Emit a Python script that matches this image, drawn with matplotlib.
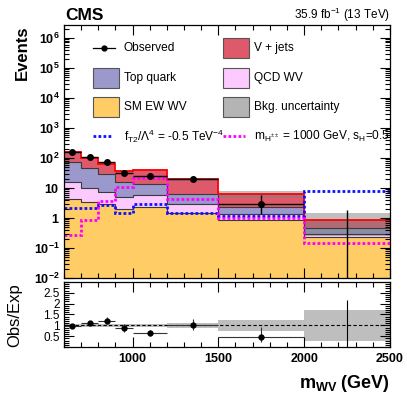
import numpy as np
import matplotlib
matplotlib.use('Agg')
import matplotlib.pyplot as plt
from matplotlib.patches import Rectangle
from matplotlib.lines import Line2D
from matplotlib.ticker import (FixedLocator, MultipleLocator, FuncFormatter,
                               LogLocator, NullFormatter)

plt.rcParams['font.family'] = ['Liberation Sans', 'DejaVu Sans']
plt.rcParams['mathtext.fontset'] = 'custom'
plt.rcParams['mathtext.rm'] = 'Liberation Sans'
plt.rcParams['mathtext.it'] = 'Liberation Sans:italic'
plt.rcParams['mathtext.bf'] = 'Liberation Sans:bold'

# binning in m_WV (GeV)
edges = [600, 700, 800, 900, 1000, 1200, 1500, 2000, 2500]

# data and backgrounds (events per bin)
observed = [158, 110, 75, 32, 25, 20, 3, 0]
sm_ew_wv = [4.2, 3.34, 2.86, 2.0, 2.38, 1.43, 0.86, 0.24]
qcd_wv = [11.3, 6.86, 4.33, 3.13, 3.46, 1.43, 0.5, 0.05]
top_quark = [60.0, 35.2, 21.4, 11.1, 7.46, 3.31, 0.97, 0.17]
v_jets = [87.7, 54.6, 33.4, 20.7, 26.5, 13.3, 4.0, 0.40]
bkg_rel_unc = [0.06, 0.06, 0.08, 0.07, 0.07, 0.12, 0.25, 0.70]

# signal hypotheses
sig_ft2 = [2.2, 2.2, 2.71, 1.5, 2.93, 1.5, 1.19, 7.9]
sig_hpp = [0.27, 0.86, 3.69, 11.0, 22.0, 4.3, 1.02, 0.15]

# ratio panel y tick labels
ratio_ticks = [0.5, 1, 1.5, 2, 2.5]

edges = np.array(edges, dtype=float)
centers = 0.5 * (edges[1:] + edges[:-1])
halfw = 0.5 * (edges[1:] - edges[:-1])
obs = np.array(observed, dtype=float)

layers = [
    (sm_ew_wv, '#ffcc66'),
    (qcd_wv, '#fccaff'),
    (top_quark, '#9b98cc'),
    (v_jets, '#de5a6a'),
]

# poisson (Gehrels) error bars
err_hi = 1 + np.sqrt(obs + 0.75)
safe = np.where(obs > 0, obs, 1)
low = np.where(obs > 0, safe * (1 - 1 / (9 * safe) - 1 / (3 * np.sqrt(safe))) ** 3, 0)
err_lo = obs - low

fig = plt.figure(figsize=(4.07, 3.95), dpi=100)
ax = fig.add_axes([0.157, 0.296, 0.801, 0.641])
rax = fig.add_axes([0.157, 0.1215, 0.801, 0.1646], sharex=ax)

# stacked backgrounds
bottom = np.full(len(obs), 1e-3)
for vals, col in layers:
    top = bottom + np.array(vals)
    ax.stairs(top, edges, baseline=bottom, fill=True, color=col, lw=0)
    bottom = top
total = bottom

unc = np.array(bkg_rel_unc)
ax.stairs(total * (1 + unc), edges, baseline=total * (1 - unc), fill=True,
          color='#808080', alpha=0.5, lw=0)

cum = np.full(len(obs), 0.0)
for vals, col in layers[:-1]:
    cum = cum + np.array(vals)
    ax.stairs(cum, edges, baseline=None, color='#3a3a3a', lw=0.8)
ax.stairs(total, edges, baseline=None, color='red', lw=1.3)

ax.stairs(sig_ft2, edges, baseline=None, color='#1010ff', lw=2, ls=(0, (1, 0.8)))
ax.stairs(sig_hpp, edges, baseline=None, color='#ff00ff', lw=2, ls=(0, (1, 0.8)))

nz = obs > 0
ax.errorbar(centers[nz], obs[nz], xerr=halfw[nz], yerr=[err_lo[nz], err_hi[nz]],
            fmt='o', color='black', ms=4, lw=1, capsize=0)
ax.vlines(centers[~nz], 1e-3, obs[~nz] + err_hi[~nz], color='black', lw=1)

ax.set_yscale('log')
ax.set_xlim(600, 2500)
ax.set_ylim(0.01, 2.7e6)
ax.yaxis.set_major_locator(LogLocator(base=10, numticks=20))
ax.yaxis.set_minor_locator(LogLocator(base=10, subs=np.arange(2, 10), numticks=20))
ax.yaxis.set_minor_formatter(NullFormatter())


def ylab(v, pos):
    e = int(round(np.log10(v)))
    if e == 0:
        return r'$\mathbf{1}$'
    if e == 1:
        return r'$\mathbf{10}$'
    return r'$\mathbf{10^{%d}}$' % e


ax.yaxis.set_major_formatter(FuncFormatter(ylab))

# ratio panel
ratio = obs / total
r_lo = err_lo / total
r_hi = err_hi / total
rax.stairs(1 + unc, edges, baseline=1 - unc, fill=True, color='#bebebe', lw=0)
rax.axhline(1, color='black', lw=0.8, ls=(0, (3, 2)))
rax.errorbar(centers[nz], ratio[nz], xerr=halfw[nz], yerr=[r_lo[nz], r_hi[nz]],
             fmt='o', color='black', ms=3.5, lw=0.8, capsize=0, ecolor='#333333')
rax.vlines(centers[~nz], 0, ratio[~nz] + r_hi[~nz], color='black', lw=0.8)
rax.set_ylim(0, 3)
rax.yaxis.set_major_locator(FixedLocator(ratio_ticks))
rax.yaxis.set_minor_locator(MultipleLocator(0.1))
rax.yaxis.set_major_formatter(FuncFormatter(lambda v, p: '%g' % v))

for a in (ax, rax):
    a.xaxis.set_major_locator(MultipleLocator(500))
    a.xaxis.set_minor_locator(MultipleLocator(100))
    a.tick_params(which='both', direction='in', top=True, right=True, width=0.8)
    a.tick_params(which='major', length=7)
    a.tick_params(which='minor', length=3.5)
    for s in a.spines.values():
        s.set_linewidth(0.9)
ax.tick_params(labelbottom=False, labelsize=9, pad=3)
rax.tick_params(axis='y', labelsize=8.5, pad=3)
rax.tick_params(axis='x', labelsize=9, pad=4)
for t in rax.get_xticklabels():
    t.set_fontweight('bold')

# legend drawn by hand in pixel units of the reference
def ax_xy(px, py):
    return (px - 64) / 326.0, (278 - py) / 253.0


box_w, box_h = 26 / 326.0, 20 / 253.0
entries = [
    (93, 78, '#9b98cc', 'Top quark'),
    (93, 107, '#ffcc66', 'SM EW WV'),
    (223, 48, '#de5a6a', 'V + jets'),
    (223, 78, '#fccaff', 'QCD WV'),
    (223, 107, '#b4b4b4', 'Bkg. uncertainty'),
]
for px, py, col, lab in entries:
    x0, y0 = ax_xy(px, py)
    ax.add_patch(Rectangle((x0, y0 - box_h / 2), box_w, box_h, transform=ax.transAxes,
                           facecolor=col, edgecolor='#555555', lw=0.8, zorder=5))
    ax.text(x0 + 31 / 326.0, y0, lab, transform=ax.transAxes, va='center',
            fontsize=8.6, zorder=5)

x0, y0 = ax_xy(93, 48)
x1, _ = ax_xy(115, 48)
ax.add_line(Line2D([x0, x1], [y0, y0], transform=ax.transAxes, color='black', lw=0.9))
ax.add_line(Line2D([(x0 + x1) / 2], [y0], transform=ax.transAxes, color='black',
                   marker='o', ms=3.5))
ax.text(x0 + 31 / 326.0, y0, 'Observed', transform=ax.transAxes, va='center', fontsize=8.6)

x0, y0 = ax_xy(93, 136)
x1, _ = ax_xy(113, 136)
ax.add_line(Line2D([x0, x1], [y0, y0], transform=ax.transAxes, color='#1010ff', lw=2,
                   ls=(0, (1, 0.8))))
ax.text(x0 + 31 / 326.0, y0, r'f$_{\mathrm{T2}}$/$\Lambda^{4}$ = -0.5 TeV$^{-4}$',
        transform=ax.transAxes, va='center', fontsize=8.6)
x0, y0 = ax_xy(223, 136)
x1, _ = ax_xy(245, 136)
ax.add_line(Line2D([x0, x1], [y0, y0], transform=ax.transAxes, color='#ff00ff', lw=2,
                   ls=(0, (1, 0.8))))
ax.text(x0 + 31 / 326.0, y0,
        r'm$_{\mathrm{H^{\pm\pm}}}$ = 1000 GeV, s$_{\mathrm{H}}$=0.5',
        transform=ax.transAxes, va='center', fontsize=8.6)

# labels
fig.text(65 / 407, 1 - 20 / 395, 'CMS', fontsize=12.5, fontweight='bold', va='baseline')
fig.text(390 / 407, 1 - 19 / 395, r'35.9 fb$^{-1}$ (13 TeV)', fontsize=8.5,
         ha='right', va='baseline')
fig.text(22 / 407, 1 - 25 / 395, 'Events', rotation=90, fontsize=12,
         fontweight='bold', ha='center', va='top')
fig.text(15 / 407, 1 - 315 / 395, 'Obs/Exp', rotation=90, fontsize=12,
         ha='center', va='center')
fig.text(390 / 407, 1 - 384 / 395, r'$\mathbf{m_{WV}}$ (GeV)', fontsize=13,
         fontweight='bold', ha='right', va='center')

fig.savefig('out.png', dpi=100)
